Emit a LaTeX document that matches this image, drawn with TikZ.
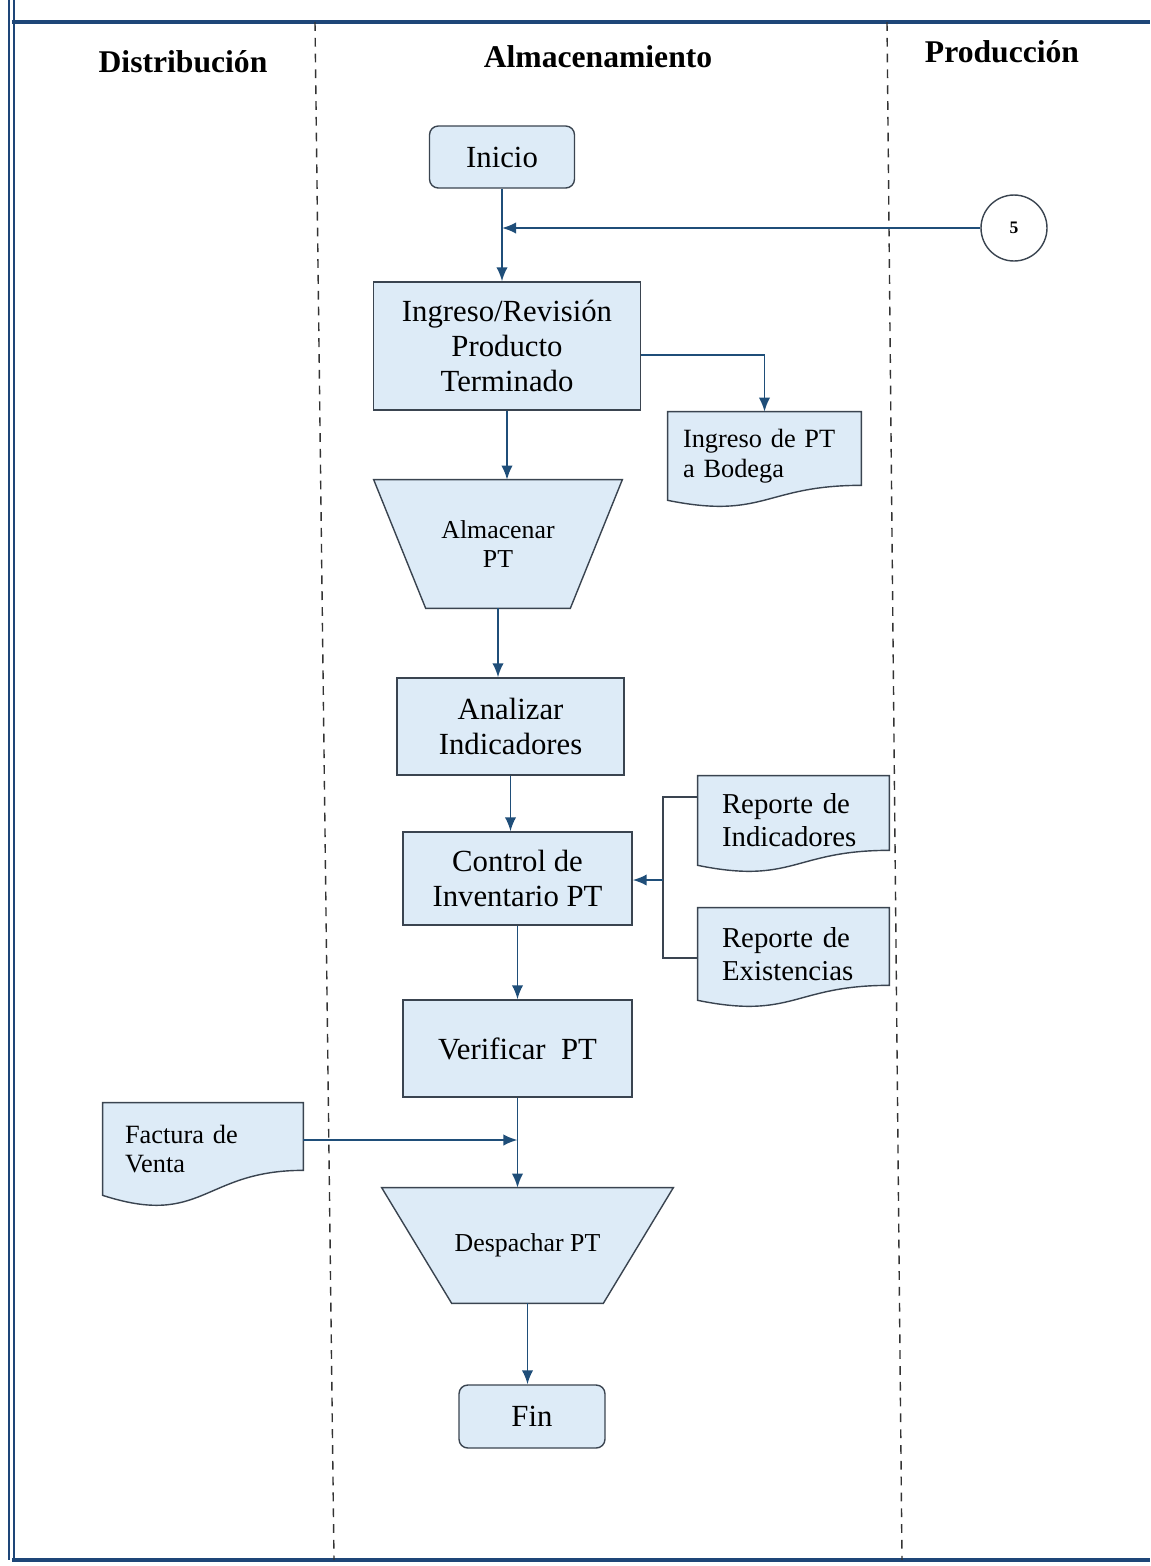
\documentclass[tikz,border=0pt]{standalone}
\usepackage{fontspec}
\setmainfont{Liberation Serif}
\usepackage{tikz}
\usetikzlibrary{arrows, arrows.meta, shapes, calc}

\definecolor{boxfill}{RGB}{221,235,247}
\definecolor{boxline}{RGB}{58,68,80}
\definecolor{flowblue}{RGB}{31,78,121}
\definecolor{frameblue}{RGB}{30,70,120}

\pgfdeclarelayer{background}
\pgfsetlayers{background,main}

% document symbol: box with a wavy bottom, drawn behind the node text
\newcommand{\docshape}[2]{%
  \begin{pgfonlayer}{background}
    \draw[shapeline] (#1.north west) -- (#1.north east)
      -- ($(#1.south east)+(0,-#2)$)
      .. controls ($(#1.south)+(0,-#2)$) and ($(#1.south)+(0,{1.3*#2})$)
      .. (#1.south west) -- cycle;
  \end{pgfonlayer}}

% manual operation symbol: trapezium, wide side on top
\newcommand{\trapshape}[2]{%
  \begin{pgfonlayer}{background}
    \draw[shapeline] (#1.north west) -- (#1.north east)
      -- ($(#1.south east)+(-#2,0)$) -- ($(#1.south west)+(#2,0)$) -- cycle;
  \end{pgfonlayer}}

\begin{document}
\begin{tikzpicture}[x=0.02cm, y=-0.02cm, >={Latex[length=8pt, width=6.5pt]},
  process/.style={rectangle, draw=boxline, thick, fill=boxfill,
    align=center, inner sep=2pt, font=\fontsize{17.5}{20}\selectfont},
  %
  terminal/.style={process, rounded corners=5pt},
  %
  storage/.style={rectangle, align=center,
    font=\fontsize{14.7}{17}\selectfont},
  %
  docbox/.style={rectangle, align=left, inner ysep=2pt,
    font=\fontsize{15}{17}\selectfont},
  %
  shapeline/.style={draw=boxline, thick, fill=boxfill},
  %
  connector/.style={circle, draw=boxline, thick, fill=white,
    minimum size=1.32cm, inner sep=0pt,
    font=\bfseries\fontsize{10}{12}\selectfont},
  %
  flow/.style={->, draw=flowblue, line width=1.1pt},
  link/.style={draw=boxline, line width=0.9pt},
  lane/.style={draw=black!80, line width=0.8pt, dash pattern=on 5pt off 4pt},
  header/.style={font=\bfseries\fontsize{18}{21}\selectfont}
  ]

  \useasboundingbox (0,0) rectangle (1150,1566);

  % frame and lanes
  \draw[frameblue, line width=1.2pt] (9,0) -- (9,1560);
  \draw[frameblue, line width=1.2pt] (14,0) -- (14,1560);
  \draw[frameblue, line width=2.5pt] (12,22) -- (1150,22);
  \draw[frameblue, line width=2.5pt] (12,1560) -- (1150,1560);
  \draw[lane] (315,22) -- (334,1560);
  \draw[lane] (887,22) -- (902,1560);

  \node[header] (hdist) at (183,62) {Distribución};
  \node[header] (halm) at (598,57) {Almacenamiento};
  \node[header] (hprod) at (1002,52) {Producción};

  %%%%%%%%%%%%%%%%%%%%%%%%%%%%%%%
  \node[terminal, minimum width=2.9cm, minimum height=1.24cm] (inicio)
    at (502,157) {Inicio};
  \node[connector] (conn5) at (1014,228) {5};
  \node[process, minimum width=5.34cm, minimum height=2.56cm] (ingreso)
    at (507,346) {Ingreso/Revisión\\Producto\\Terminado};
  \node[docbox, text width=3.26cm, inner xsep=0.3cm, minimum height=1.76cm]
    (ingdoc) at (764.5,456) {Ingreso de PT\\a Bodega};
  \node[storage, minimum width=4.96cm, minimum height=2.56cm] (almacenar)
    at (498,544) {Almacenar\\PT};
  \node[process, minimum width=4.54cm, minimum height=1.94cm] (analizar)
    at (510.5,726.5) {Analizar\\Indicadores};
  \node[process, minimum width=4.58cm, minimum height=1.86cm] (control)
    at (517.5,878.5) {Control de\\Inventario PT};
  \node[docbox, text width=2.86cm, inner xsep=0.48cm, minimum height=1.78cm,
    font=\fontsize{16.4}{18.7}\selectfont] (repind)
    at (793.5,820.5) {Reporte de\\Indicadores};
  \node[docbox, text width=2.86cm, inner xsep=0.48cm, minimum height=1.84cm,
    font=\fontsize{16.4}{18.7}\selectfont] (repexi)
    at (793.5,954) {Reporte de\\Existencias};
  \node[process, minimum width=4.58cm, minimum height=1.94cm] (verificar)
    at (517.5,1048.5) {Verificar\ \ PT};
  \node[docbox, text width=3.12cm, inner xsep=0.44cm, minimum height=1.84cm]
    (factura) at (203,1149) {Factura de\\Venta};
  \node[storage, minimum width=5.82cm, minimum height=2.3cm] (despachar)
    at (527.5,1245.5) {Despachar PT};
  \node[terminal, minimum width=2.92cm, minimum height=1.26cm] (fin)
    at (532,1416.5) {Fin};
  %%%%%%%%%%%%%%%%%%%%%%%%%%%%%%%

  \docshape{ingdoc}{15}
  \docshape{repind}{15}
  \docshape{repexi}{15}
  \docshape{factura}{25}
  \trapshape{almacenar}{52}
  \trapshape{despachar}{70}

  \coordinate (bus) at (663,880);

  \draw[flow] (inicio.south) -- (inicio.south |- ingreso.north);
  \draw[flow] (conn5.west) -- (conn5.west -| inicio.south);
  \draw[flow] ([yshift=-0.18cm]ingreso.east) -| (ingdoc.north);
  \draw[flow] (ingreso.south) -- (ingreso.south |- almacenar.north);
  \draw[flow] (almacenar.south) -- (almacenar.south |- analizar.north);
  \draw[flow] (analizar.south) -- (analizar.south |- control.north);
  \draw[link] ([yshift=0.47cm]repind.west) -| (bus);
  \draw[link] ([yshift=-0.08cm]repexi.west) -| (bus);
  \draw[flow] (bus) -- (bus -| control.east);
  \draw[flow] (control.south) -- (control.south |- verificar.north);
  \draw[flow] (verificar.south) -- (verificar.south |- despachar.north);
  \draw[flow] ([yshift=0.18cm]factura.east) -- ([yshift=0.18cm]factura.east -| verificar.south);
  \draw[flow] (despachar.south) -- (despachar.south |- fin.north);

\end{tikzpicture}
\end{document}
